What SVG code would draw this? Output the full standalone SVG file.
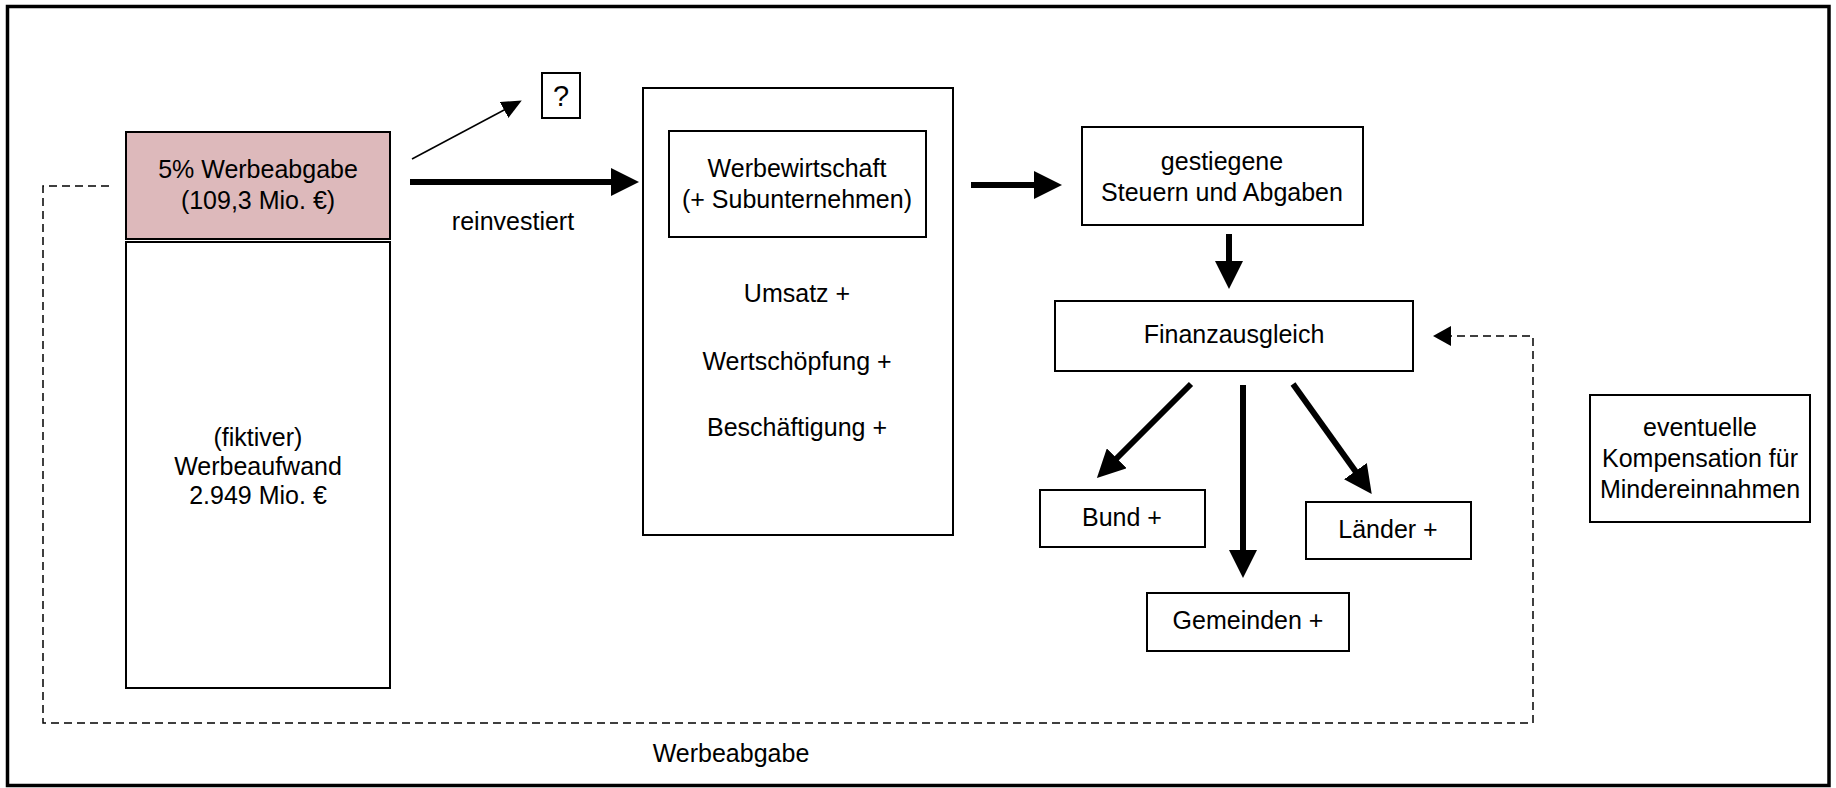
<svg xmlns="http://www.w3.org/2000/svg" width="1836" height="788" viewBox="0 0 1836 788">
<style>
text{font-family:"Liberation Sans",Arial,sans-serif;font-size:25px;fill:#000;text-anchor:middle}
.box{fill:#fff;stroke:#000;stroke-width:2}
.thick{stroke:#000;stroke-width:6;fill:none}
.thin{stroke:#000;stroke-width:1.5;fill:none}
.dash{stroke:#000;stroke-width:1.5;fill:none;stroke-dasharray:8 5}
</style>
<defs>
<marker id="ah" viewBox="0 0 28 28" markerWidth="28" markerHeight="28" refX="1" refY="14" orient="auto" markerUnits="userSpaceOnUse"><path d="M0,0 L28,14 L0,28 z" fill="#000"/></marker>
<marker id="ahs" viewBox="0 0 20 18" markerWidth="20" markerHeight="18" refX="1" refY="9" orient="auto" markerUnits="userSpaceOnUse"><path d="M0,0 L20,9 L0,18 z" fill="#000"/></marker>
<marker id="ahd" viewBox="0 0 18 20" markerWidth="18" markerHeight="20" refX="1" refY="10" orient="auto" markerUnits="userSpaceOnUse"><path d="M0,0 L18,10 L0,20 z" fill="#000"/></marker>
</defs>
<rect x="0" y="0" width="1836" height="788" fill="#fff"/>
<rect x="7.5" y="6.5" width="1821.5" height="779" fill="none" stroke="#000" stroke-width="3.5"/>

<g id="connectors">
<path class="thin" d="M412,159 L505,109.5" marker-end="url(#ahs)"/>
<path class="thick" d="M410,182 H612" marker-end="url(#ah)"/>
<path class="thick" d="M971,185 H1035" marker-end="url(#ah)"/>
<path class="thick" d="M1229,234 V262" marker-end="url(#ah)"/>
<path class="thick" d="M1191,384 L1116,459" marker-end="url(#ah)"/>
<path class="thick" d="M1243,385 V551" marker-end="url(#ah)"/>
<path class="thick" d="M1293,384 L1356,472" marker-end="url(#ah)"/>
<path class="dash" d="M109,186 H43 V723 H1533 V336 H1450" marker-end="url(#ahd)"/>
<text x="731" y="762">Werbeabgabe</text>
<text x="513" y="230">reinvestiert</text>
</g>

<g id="werbeabgabe">
<rect x="126" y="132" width="264" height="107" fill="#ddb9bb" stroke="#000" stroke-width="2"/>
<text x="258" y="178">5% Werbeabgabe</text>
<text x="258" y="209">(109,3 Mio. €)</text>
</g>

<g id="werbeaufwand">
<rect class="box" x="126" y="242" width="264" height="446"/>
<text x="258" y="446">(fiktiver)</text>
<text x="258" y="475">Werbeaufwand</text>
<text x="258" y="504">2.949 Mio. €</text>
</g>

<g id="fragezeichen">
<rect class="box" x="542" y="73" width="38" height="45"/>
<text x="561" y="106" style="font-size:29px">?</text>
</g>

<g id="werbewirtschaft-block">
<rect class="box" x="643" y="88" width="310" height="447"/>
<text x="797" y="302">Umsatz +</text>
<text x="797" y="370">Wertschöpfung +</text>
<text x="797" y="436">Beschäftigung +</text>
</g>

<g id="werbewirtschaft">
<rect class="box" x="669" y="131" width="257" height="106"/>
<text x="797" y="177">Werbewirtschaft</text>
<text x="797" y="208">(+ Subunternehmen)</text>
</g>

<g id="steuern">
<rect class="box" x="1082" y="127" width="281" height="98"/>
<text x="1222" y="170">gestiegene</text>
<text x="1222" y="201">Steuern und Abgaben</text>
</g>

<g id="finanzausgleich">
<rect class="box" x="1055" y="301" width="358" height="70"/>
<text x="1234" y="343">Finanzausgleich</text>
</g>

<g id="bund">
<rect class="box" x="1040" y="490" width="165" height="57"/>
<text x="1122" y="526">Bund +</text>
</g>

<g id="laender">
<rect class="box" x="1306" y="502" width="165" height="57"/>
<text x="1388" y="538">Länder +</text>
</g>

<g id="gemeinden">
<rect class="box" x="1147" y="593" width="202" height="58"/>
<text x="1248" y="629">Gemeinden +</text>
</g>

<g id="kompensation">
<rect class="box" x="1590" y="395" width="220" height="127"/>
<text x="1700" y="436">eventuelle</text>
<text x="1700" y="467">Kompensation für</text>
<text x="1700" y="498">Mindereinnahmen</text>
</g>
</svg>
